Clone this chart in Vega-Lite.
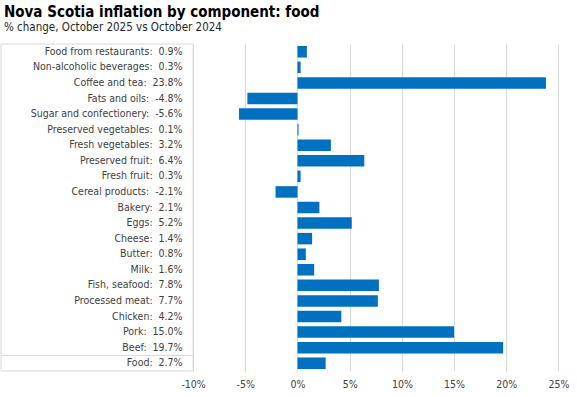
{
  "$schema": "https://vega.github.io/schema/vega-lite/v6.json",
  "autosize": "none",
  "width": 558,
  "height": 327,
  "padding": {"left": 1, "top": 44, "right": 18, "bottom": 26},
  "background": "white",
  "config": {"font": "DejaVu Sans Condensed, Liberation Sans, sans-serif", "view": {"stroke": null}},
  "title": {
    "text": "Nova Scotia inflation by component: food",
    "subtitle": "% change, October 2025 vs October 2024",
    "anchor": "start",
    "frame": "group",
    "dx": 3,
    "fontSize": 15,
    "fontWeight": "bold",
    "color": "#000000",
    "subtitleFontSize": 11.5,
    "subtitleColor": "#262626",
    "subtitlePadding": 2,
    "offset": 10
  },
  "data": {
    "values": [
      {"component": "Food from restaurants", "label": "Food from restaurants:\u00a0 0.9%", "value": 0.9},
      {"component": "Non-alcoholic beverages", "label": "Non-alcoholic beverages:\u00a0 0.3%", "value": 0.3},
      {"component": "Coffee and tea", "label": "Coffee and tea:\u00a0 23.8%", "value": 23.8},
      {"component": "Fats and oils", "label": "Fats and oils:\u00a0 -4.8%", "value": -4.8},
      {"component": "Sugar and confectionery", "label": "Sugar and confectionery:\u00a0 -5.6%", "value": -5.6},
      {"component": "Preserved vegetables", "label": "Preserved vegetables:\u00a0 0.1%", "value": 0.1},
      {"component": "Fresh vegetables", "label": "Fresh vegetables:\u00a0 3.2%", "value": 3.2},
      {"component": "Preserved fruit", "label": "Preserved fruit:\u00a0 6.4%", "value": 6.4},
      {"component": "Fresh fruit", "label": "Fresh fruit:\u00a0 0.3%", "value": 0.3},
      {"component": "Cereal products", "label": "Cereal products:\u00a0 -2.1%", "value": -2.1},
      {"component": "Bakery", "label": "Bakery:\u00a0 2.1%", "value": 2.1},
      {"component": "Eggs", "label": "Eggs:\u00a0 5.2%", "value": 5.2},
      {"component": "Cheese", "label": "Cheese:\u00a0 1.4%", "value": 1.4},
      {"component": "Butter", "label": "Butter:\u00a0 0.8%", "value": 0.8},
      {"component": "Milk", "label": "Milk:\u00a0 1.6%", "value": 1.6},
      {"component": "Fish, seafood", "label": "Fish, seafood:\u00a0 7.8%", "value": 7.8},
      {"component": "Processed meat", "label": "Processed meat:\u00a0 7.7%", "value": 7.7},
      {"component": "Chicken", "label": "Chicken:\u00a0 4.2%", "value": 4.2},
      {"component": "Pork", "label": "Pork:\u00a0 15.0%", "value": 15.0},
      {"component": "Beef", "label": "Beef:\u00a0 19.7%", "value": 19.7},
      {"component": "Food", "label": "Food:\u00a0 2.7%", "value": 2.7}
    ]
  },
  "layer": [
    {
      "mark": {"type": "bar", "color": "#0070c0", "height": {"band": 0.74}},
      "encoding": {
        "y": {"field": "component", "type": "nominal", "sort": null, "axis": null,
              "scale": {"paddingInner": 0, "paddingOuter": 0}},
        "x": {"field": "value", "type": "quantitative",
              "scale": {"domain": [-28.4, 25.05], "nice": false, "zero": false},
              "axis": {"values": [-10, -5, 0, 5, 10, 15, 20, 25], "grid": true, "gridColor": "#d9d9d9",
                       "domain": false, "ticks": false, "labelExpr": "datum.value + '%'", "labelFlush": false,
                       "labelFontSize": 10.5, "labelColor": "#404040", "labelPadding": 8, "title": null}}
      }
    },
    {
      "mark": {"type": "text", "align": "right", "baseline": "middle", "dx": -10.5, "fontSize": 10.5, "color": "#404040"},
      "encoding": {
        "y": {"field": "component", "type": "nominal", "sort": null},
        "x": {"datum": -10, "type": "quantitative"},
        "text": {"field": "label"}
      }
    },
    {
      "data": {"values": [{"box": "labels"}]},
      "mark": {"type": "rect", "fill": "transparent", "stroke": "#d9d9d9", "strokeWidth": 1},
      "encoding": {
        "x": {"datum": -28.4, "type": "quantitative"},
        "x2": {"datum": -10}
      }
    },
    {
      "data": {"values": [{"box": "labels"}]},
      "mark": {"type": "rule", "color": "#d9d9d9", "strokeWidth": 1},
      "encoding": {
        "x": {"datum": -28.4, "type": "quantitative"},
        "x2": {"datum": -10},
        "y": {"datum": "Food", "type": "nominal", "bandPosition": 0}
      }
    }
  ]
}
